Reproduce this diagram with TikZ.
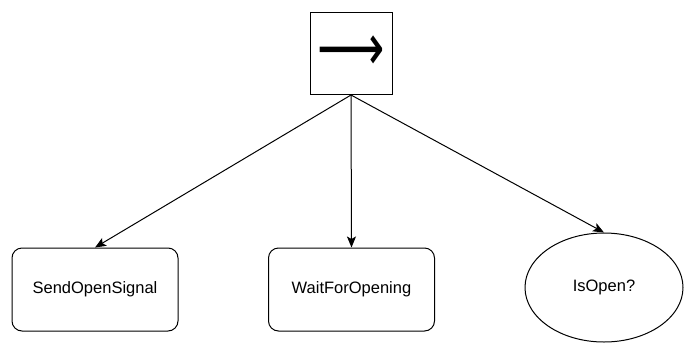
\documentclass[tikz,border=0pt]{standalone}
\usepackage{fontspec}
\setmainfont{Liberation Sans}
\newfontfamily\arrowfont{DejaVu Sans}
\usepackage{tikz}
\usetikzlibrary{arrows.meta,shapes.geometric}

\begin{document}
\begin{tikzpicture}[
    x=1pt,y=-1pt,
    font=\fontsize{16.5}{19}\selectfont,
    every node/.style={line width=1pt},
    seqbox/.style={draw,minimum width=82pt,minimum height=82pt,inner sep=0pt},
    actbox/.style={draw,rounded corners=10pt,minimum width=166pt,minimum height=83pt,align=center},
    condnode/.style={draw,ellipse,minimum width=158pt,minimum height=109pt,inner sep=0pt},
    edge/.style={-{Stealth[length=11pt,width=9pt,inset=2.5pt]},line width=1pt}
  ]
    \useasboundingbox (0,0) rectangle (684,343);
    \node[seqbox] (seq) at (351,53.5) {\makebox[0pt]{\scalebox{1}[1.4]{\arrowfont\fontsize{47}{47}\selectfont ⟶}}};
    \node[actbox] (send) at (95,289.5) {SendOpenSignal};
    \node[actbox] (wait) at (351.5,289.5) {WaitForOpening};
    \node[condnode] (isopen) at (604,287.5) {IsOpen?};
    \draw[edge] (seq.south) -- (send.north);
    \draw[edge] (seq.south) -- (wait.north);
    \draw[edge] (seq.south) -- (isopen.north);
  \end{tikzpicture}
\end{document}
